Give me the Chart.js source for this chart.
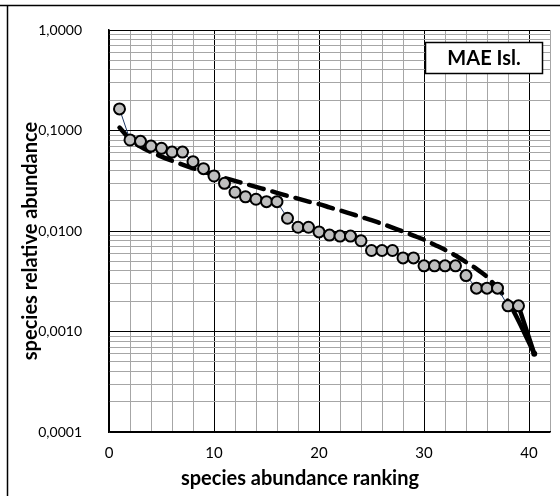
<!DOCTYPE html>
<html>
<head>
<meta charset="utf-8">
<script src="https://cdn.jsdelivr.net/npm/chart.js@4.4.1/dist/chart.umd.min.js"></script>
<style>
  html, body { margin: 0; padding: 0; background: #fff; }
  #wrap { width: 560px; height: 496px; position: relative; }
</style>
</head>
<body>
<div id="wrap"><canvas id="canvas1"></canvas></div>
<script>
// species rank (x) - the last point sits a bit past 40 in the picture
const ranks = [1, 2, 3, 4, 5, 6, 7, 8, 9, 10, 11, 12, 13, 14, 15, 16, 17, 18, 19, 20,
    21, 22, 23, 24, 25, 26, 27, 28, 29, 30, 31, 32, 33, 34, 35, 36, 37, 38, 39, 40.5];

// observed relative abundance (grey circles)
const observed = [0.164, 0.0805, 0.078, 0.070, 0.0665, 0.061, 0.061, 0.049, 0.0417, 0.0353,
    0.0298, 0.0243, 0.0219, 0.0207, 0.0196, 0.0196, 0.0134, 0.0109, 0.0109, 0.0098,
    0.0091, 0.0089, 0.0089, 0.0080, 0.0064, 0.0064, 0.0064, 0.0054, 0.0054, 0.0045,
    0.0045, 0.0045, 0.0045, 0.0036, 0.0027, 0.0027, 0.0027, 0.0018, 0.0018, 0.0006];

// expected (dashed curve)
const expected = [0.107, 0.082, 0.069, 0.061, 0.055, 0.050, 0.0457, 0.0421, 0.0390, 0.0362,
    0.0337, 0.0315, 0.0294, 0.0275, 0.0257, 0.0240, 0.0224, 0.0210, 0.0196, 0.0185,
    0.0172, 0.0160, 0.0149, 0.0138, 0.0128, 0.0118, 0.0108, 0.0099, 0.0090, 0.0082,
    0.0073, 0.0065, 0.0057, 0.0049, 0.0042, 0.0035, 0.0027, 0.0020, 0.00128, 0.0006];

// axis ticks
const yDecades = [0.0001, 0.001, 0.01, 0.1, 1];
const yMinor = [2, 3, 4, 5, 6, 7, 8, 9];
const xLabels = [0, 10, 20, 30, 40];

const boxLabel = 'MAE Isl.';
const xTitle = 'species abundance ranking';
const yTitle = 'species relative abundance';

const FONT = 'Lato';
const last = ranks.length - 1;

const yTicks = [];
yDecades.forEach(d => {
    yTicks.push(d);
    if (d < 1) yMinor.forEach(m => yTicks.push(d * m));
});
const isDecade = v => yDecades.some(d => Math.abs(v - d) / d < 1e-6);

// frame, axis titles, label box
const extras = {
    id: 'extras',
    afterDraw(chart) {
        const c = chart.ctx;
        c.save();
        c.strokeStyle = '#000';
        c.lineWidth = 1.5;
        c.beginPath();
        c.moveTo(0, 5.5); c.lineTo(560, 5.5);
        c.moveTo(7.5, 5); c.lineTo(7.5, 496);
        c.stroke();

        c.fillStyle = '#fff';
        c.fillRect(425, 42, 118, 32);
        c.lineWidth = 1.5;
        c.strokeRect(425.5, 42.5, 117, 31);

        c.fillStyle = '#000';
        c.textAlign = 'center';
        c.textBaseline = 'middle';
        c.font = 'bold 20px ' + FONT;
        c.fillText(boxLabel, 484, 59);

        c.fillText(xTitle, 300, 479);

        c.translate(31, 241);
        c.rotate(-Math.PI / 2);
        c.fillText(yTitle, 0, 0);
        c.restore();
    }
};

const ctx1 = document.getElementById('canvas1');

new Chart(ctx1, {
    type: 'scatter',
    data: {
        datasets: [{
            label: 'observed',
            data: ranks.map((r, i) => ({ x: r, y: observed[i] })),
            showLine: true,
            borderColor: '#1f3864',
            borderWidth: 1,
            segment: {
                borderColor: c => c.p1DataIndex === last ? '#000' : '#1f3864',
                borderWidth: c => c.p1DataIndex === last ? 4.5 : 1
            },
            borderCapStyle: 'round',
            pointRadius: c => c.dataIndex === last ? 0 : 5.5,
            pointBackgroundColor: '#bfbfbf',
            pointBorderColor: '#000',
            pointBorderWidth: 2,
        },
        {
            label: 'expected',
            data: ranks.map((r, i) => ({ x: r, y: expected[i] })),
            showLine: true,
            borderColor: '#000',
            borderWidth: 4.5,
            borderDash: [15, 9],
            borderCapStyle: 'round',
            tension: 0.3,
            segment: {
                borderDash: c => c.p0DataIndex >= 37 ? [] : [15, 9]
            },
            pointRadius: c => c.dataIndex === last ? 3 : 0,
            pointBackgroundColor: '#000',
            pointBorderWidth: 0,
        }]
    },
    options: {
        responsive: true,
        maintainAspectRatio: false,
        animation: false,
        layout: {
            padding: { top: 30, right: 10, bottom: 0, left: 0 }
        },
        plugins: {
            legend: { display: false },
            tooltip: { enabled: false }
        },
        scales: {
            x: {
                type: 'linear',
                min: 0,
                max: 42,
                afterBuildTicks: axis => {
                    const t = [];
                    for (let v = 0; v <= 42; v += 2) t.push({ value: v });
                    axis.ticks = t;
                },
                afterFit: axis => { axis.height = 64; },
                grid: {
                    color: c => (c.tick && c.tick.value % 10 === 0) ? '#000' : '#a6a6a6',
                    lineWidth: 1,
                    drawTicks: true,
                    tickLength: 12,
                    tickColor: 'rgba(0,0,0,0)'
                },
                border: { color: '#000', width: 1.5 },
                ticks: {
                    padding: 0,
                    autoSkip: false,
                    maxRotation: 0,
                    color: '#000',
                    font: { family: FONT, size: 15 },
                    callback: v => xLabels.includes(v) ? String(v) : ''
                }
            },
            y: {
                type: 'logarithmic',
                min: 0.0001,
                max: 1,
                afterBuildTicks: axis => {
                    axis.ticks = yTicks.map(v => ({ value: v }));
                },
                afterFit: axis => { axis.width = 109; },
                grid: {
                    color: c => (c.tick && isDecade(c.tick.value)) ? '#000' : '#a6a6a6',
                    lineWidth: 1,
                    drawTicks: true,
                    tickLength: 27,
                    tickColor: 'rgba(0,0,0,0)'
                },
                border: { color: '#000', width: 1.5 },
                ticks: {
                    padding: 0,
                    autoSkip: false,
                    color: '#000',
                    font: { family: FONT, size: 14 },
                    callback: v => isDecade(v) ? v.toFixed(4).replace('.', ',') : ''
                }
            }
        }
    },
    plugins: [extras]
});
</script>
</body>
</html>
